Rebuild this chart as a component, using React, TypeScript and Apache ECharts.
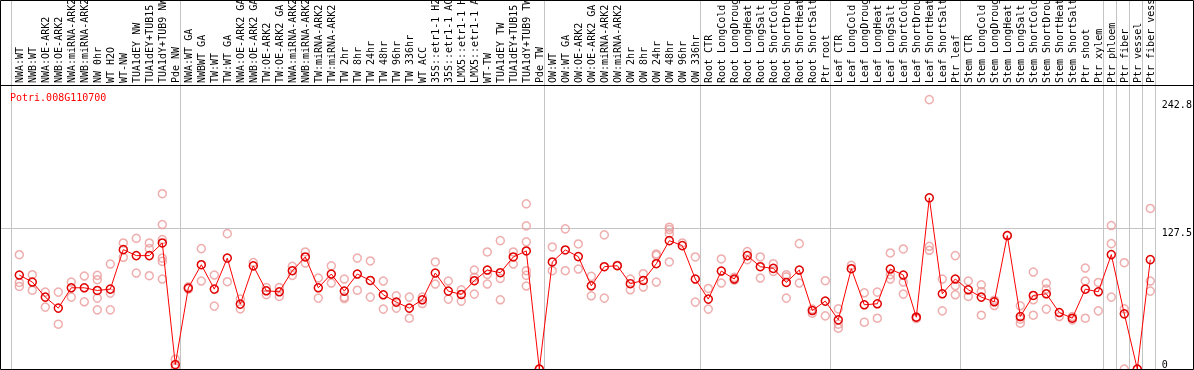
import React, { useEffect, useRef } from 'react';
import * as echarts from 'echarts';

const geneId = 'Potri.008G110700';

const categories = [
  'NWA:WT', 'NWB:WT', 'NWA:OE-ARK2', 'NWB:OE-ARK2', 'NWA:miRNA-ARK2', 'NWB:miRNA-ARK2', 'NW 0hr', 'WT H2O', 'WT-NW', 'TUA1dEY NW', 'TUA1dEY+TUB15 NW', 'TUA1dY+TUB9 NW', 'Pde NW',
  'NWA:WT GA', 'NWBWT GA', 'TW:WT', 'TW:WT GA', 'NWA:OE-ARK2 GA', 'NWB:OE-ARK2 GA', 'TW:OE-ARK2', 'TW:OE-ARK2 GA', 'NWA:miRNA-ARK2', 'NWB:miRNA-ARK2', 'TW:miRNA-ARK2', 'TW:miRNA-ARK2', 'TW 2hr', 'TW 8hr', 'TW 24hr', 'TW 48hr', 'TW 96hr', 'TW 336hr', 'WT ACC', '35S::etr1-1 H2O', '35S::etr1-1 ACC', 'LMX5::etr1-1 H2O', 'LMX5::etr1-1 ACC', 'WT-TW', 'TUA1dEY TW', 'TUA1dEY+TUB15 TW', 'TUA1dY+TUB9 TW', 'Pde TW',
  'OW:WT', 'OW:WT GA', 'OW:OE-ARK2', 'OW:OE-ARK2 GA', 'OW:miRNA-ARK2', 'OW:miRNA-ARK2', 'OW 2hr', 'OW 8hr', 'OW 24hr', 'OW 48hr', 'OW 96hr', 'OW 336hr',
  'Root CTR', 'Root LongCold', 'Root LongDrought', 'Root LongHeat', 'Root LongSalt', 'Root ShortCold', 'Root ShortDrought', 'Root ShortHeat', 'Root ShortSalt', 'Ptr root',
  'Leaf CTR', 'Leaf LongCold', 'Leaf LongDrought', 'Leaf LongHeat', 'Leaf LongSalt', 'Leaf ShortCold', 'Leaf ShortDrought', 'Leaf ShortHeat', 'Leaf ShortSalt', 'Ptr leaf',
  'Stem CTR', 'Stem LongCold', 'Stem LongDrought', 'Stem LongHeat', 'Stem LongSalt', 'Stem ShortCold', 'Stem ShortDrought', 'Stem ShortHeat', 'Stem ShortSalt', 'Ptr shoot', 'Ptr xylem',
  'Ptr phloem', 'Ptr fiber', 'Ptr vessel', 'Ptr fiber vessel',
];

// index of the first category of each group (separator lines)
const groupStarts = [0, 13, 41, 53, 63, 73, 84, 85, 86, 87];

const means = [
  84.7, 78.4, 64.8, 54.9, 73.2, 73.2, 70.8, 72, 107.6, 102.2, 102.2, 113.6, 4,
  73, 94, 72, 100, 58.5, 93, 70.5, 69.6, 88.6, 101, 73.2, 85.6, 70.2, 85.6, 79.8, 66.9, 60.3, 54.9, 62.4, 86.5, 70.2, 67.2, 79.6, 89.2, 86.8, 101, 106.4, 0,
  96.5, 107.3, 101.3, 75, 92.2, 93.1, 76.9, 79.8, 94.9, 115.7, 111.2, 81.1,
  63, 88.3, 81.1, 102.2, 92.2, 90.7, 78, 89.2, 52.7, 61.2,
  44.3, 90.4, 57.9, 58.8, 90.1, 84.7, 46.7, 154.3, 67.8, 81.1,
  71.4, 64.8, 60.6, 120.3, 47.3, 66.3, 67.8, 50.9, 45.8, 72, 69.6,
  103.1, 49.7, 0, 98.6,
];

const replicates: number[][] = [
  [103, 78, 74.4], [85, 71], [69.3, 55.8], [69.3, 40.4], [78.4, 64.8], [83.8, 60.6], [84.4, 80.5, 63.9, 53.3], [94.6, 68.4, 53.3], [113.6, 100.7], [117.8, 86.5], [113.6, 108.5, 84.1], [158, 130.2, 116.6, 100, 97, 81.1], [8.8, 1],
  [74, 72], [108.5, 79.3], [84.7, 56.7], [122, 78.7], [63, 54.2], [96], [73.5, 67], [73.5, 65.4], [92.5, 84.4], [105.5, 95.5], [82, 63.9], [93, 77.5], [81.1, 64.8, 63.5], [100, 71], [97.4, 64.8], [79.3, 54], [66, 54.9], [64.8, 45.8], [64.8, 59], [96.5, 76.6], [79.3, 63], [71.4, 61.2], [89.2, 82.6, 67.5], [105.5, 85.3, 76.6], [115.7, 81.7, 62.4], [105.5, 94.6], [148.9, 129, 114.6, 88.6, 84.4, 74.8], [0, 0],
  [110, 88.6], [126.3, 88.6], [112.7, 90.1], [83.5, 66], [120.9, 63.9], [93.5], [81.1, 71.4], [85.9, 73.9], [103.7, 102.5, 78.4], [127.8, 125.7, 122, 96.5], [113.6], [101, 60.3],
  [72.6, 54], [99.2, 77.5], [82.6, 80], [105.8, 98.6], [101, 82], [94.9, 88], [85, 83, 63.9], [113, 77.5], [54, 50.3], [79.6, 47.9],
  [54.2, 40.4, 36.8], [93.5], [68.7, 42.2], [69.3, 45.8], [104.6, 85, 81.1], [108.2, 78.4, 67.5], [47, 45.5], [242.8, 110.6, 107], [81.1, 52.4], [102.2, 75, 66.9],
  [79.3, 65.4], [75.9, 69.9, 48.5], [62, 57.2], [120.3], [57, 44.9, 41.3], [87.4, 62.4, 48.5], [77.5, 72.1, 54], [47.3], [47.3, 44.3], [91, 79.3, 45.8], [78, 52.4],
  [129.3, 113, 64.8], [95.8, 54.2, 0], [0], [144.7, 79.3, 70.2],
];

const yTickValues = [0, 127.5, 242.8];
const yMax = 256;

export default function App() {
  const ref = useRef<HTMLDivElement>(null);

  useEffect(() => {
    document.body.style.margin = '0';
    const chart = echarts.init(ref.current as HTMLDivElement, null, { renderer: 'svg' });
    const font = 'DejaVu Sans Mono';
    const repData: number[][] = [];
    replicates.forEach((arr, i) => arr.forEach((v) => repData.push([i, v])));

    chart.setOption({
      animation: false,
      title: {
        text: geneId,
        left: 10,
        top: 92,
        padding: 0,
        textStyle: { color: '#ff0000', fontSize: 10, fontWeight: 'normal', fontFamily: font },
      },
      grid: { left: 12.8, right: 37.2, top: 85, bottom: 1, containLabel: false, outerBoundsMode: 'none' },
      xAxis: {
        type: 'category',
        position: 'top',
        data: categories,
        boundaryGap: true,
        axisLine: { show: false },
        axisTick: { show: false },
        splitLine: { show: false },
        axisLabel: { interval: 0, rotate: 90, margin: 2, fontSize: 10, fontFamily: font, color: '#000', hideOverlap: false },
      },
      yAxis: {
        type: 'value',
        position: 'right',
        min: 0,
        max: yMax,
        axisLine: { show: false },
        axisTick: { show: false },
        splitLine: { show: false },
        axisLabel: {
          customValues: yTickValues,
          margin: 5,
          fontSize: 10,
          fontFamily: font,
          color: '#000',
          verticalAlign: 'top',
          verticalAlignMinLabel: 'bottom',
        },
      },
      series: [
        {
          type: 'scatter',
          data: repData,
          symbol: 'circle',
          symbolSize: 8,
          itemStyle: { color: 'transparent', borderColor: '#eb9a9a', borderWidth: 1.5 },
          z: 2,
        },
        {
          type: 'line',
          data: means,
          symbol: 'circle',
          symbolSize: 8,
          showSymbol: true,
          showAllSymbol: true,
          lineStyle: { color: '#ff0000', width: 1 },
          itemStyle: { color: 'transparent', borderColor: '#e00000', borderWidth: 1.5 },
          z: 3,
        },
      ],
    });

    const c0 = chart.convertToPixel({ xAxisIndex: 0 }, 0) as number;
    const c1 = chart.convertToPixel({ xAxisIndex: 0 }, 1) as number;
    const band = c1 - c0;
    const sepXs = [...groupStarts, categories.length].map((i) => Math.round(c0 + (i - 0.5) * band - 2) + 0.5);
    const gy = Math.round(chart.convertToPixel({ yAxisIndex: 0 }, yTickValues[1]) as number) + 0.5;
    const gray = '#c4c4c4';

    const graphics: any[] = [];
    sepXs.forEach((x) => {
      graphics.push({ type: 'line', z: 0, shape: { x1: x, y1: 0, x2: x, y2: 369 }, style: { stroke: gray, lineWidth: 1 } });
    });
    graphics.push({ type: 'line', z: 0, shape: { x1: 1, y1: gy, x2: sepXs[sepXs.length - 1], y2: gy }, style: { stroke: gray, lineWidth: 1 } });
    graphics.push({ type: 'line', z: 10, shape: { x1: 0, y1: 85.5, x2: 1194, y2: 85.5 }, style: { stroke: '#000', lineWidth: 1 } });
    graphics.push({ type: 'rect', z: 10, shape: { x: 0.5, y: 0.5, width: 1193, height: 369 }, style: { fill: 'none', stroke: '#000', lineWidth: 1 } });

    chart.setOption({ graphic: graphics });

    return () => chart.dispose();
  }, []);

  return <div ref={ref} style={{ position: 'fixed', left: 0, top: 0, width: 1194, height: 370 }} />;
}
